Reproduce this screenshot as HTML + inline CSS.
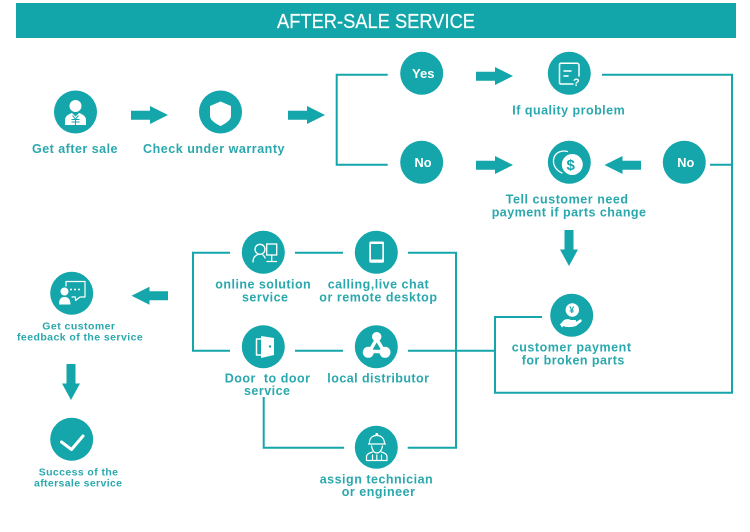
<!DOCTYPE html>
<html><head><meta charset="utf-8"><title>After-sale service</title>
<style>
html,body{margin:0;padding:0;background:#fff;width:750px;height:532px;overflow:hidden}
svg{display:block}
text{font-family:"Liberation Sans",sans-serif;font-weight:bold;fill:#2aa8ad;font-size:12.5px}
.s{font-size:10.5px}
.w{fill:#fff}
.l{fill:none;stroke:#14a6aa;stroke-width:2}
.c{fill:#14a6aa}
.i{fill:#fff}
.o{fill:none;stroke:#fff;stroke-width:1.5;stroke-linejoin:round;stroke-linecap:round}
</style></head><body>
<svg width="750" height="532" viewBox="0 0 750 532" xmlns="http://www.w3.org/2000/svg">
<rect x="16" y="3" width="720" height="35" fill="#12a6aa"/>
<text x="277" y="28" textLength="198" lengthAdjust="spacingAndGlyphs" style="font-size:20px;font-weight:normal;fill:#fff;stroke:#fff;stroke-width:.2">AFTER-SALE SERVICE</text>

<!-- connectors -->
<path class="l" d="M387.7 74.7H336.7V164.7H387.7"/>
<path class="l" d="M602 74.7H732V392.7H495V317H542"/>
<path class="l" d="M710 164.7H732"/>
<path class="l" d="M230 252.7H193V350.7H230"/>
<path class="l" d="M295 252.7H343M408 252.7H456V447.7H407.7"/>
<path class="l" d="M295 350.7H343M408 350.7H495"/>
<path class="l" d="M263.7 397V447.7H344"/>

<!-- arrows -->
<g class="c">
<path d="M131 110.700H150V106L168 115L150 124V119.700H131Z"/>
<path d="M288 110.700H307V106L325 115L307 124V119.700H288Z"/>
<path d="M476 71.700H495V67L513 76L495 85V80.700H476Z"/>
<path d="M476 160.700H495V156L513 165L495 174V169.700H476Z"/>
<path d="M641 160.700H622.500V156L604.500 165L622.500 174V169.700H641Z"/>
<path d="M564.500 230H573.500V249.500H578L569 266L560 249.500H564.500Z"/>
<path d="M168 291.200H149.500V286.700L131.500 295.700L149.500 304.700V300.200H168Z"/>
<path d="M66.500 364H75.500V383.500H80L71 400L62 383.500H66.500Z"/>
</g>

<!-- circles -->
<g class="c">
<circle cx="75.500" cy="112" r="21.500"/>
<circle cx="220.500" cy="112" r="21.500"/>
<circle cx="421.700" cy="73.300" r="21.500"/>
<circle cx="569.300" cy="73.300" r="21.500"/>
<circle cx="421.700" cy="162.300" r="21.500"/>
<circle cx="569.300" cy="162.300" r="21.500"/>
<circle cx="684.300" cy="162.300" r="21.500"/>
<circle cx="263.300" cy="252.300" r="21.500"/>
<circle cx="376.300" cy="252.300" r="21.500"/>
<circle cx="263.300" cy="346.700" r="21.500"/>
<circle cx="376.300" cy="346.700" r="21.500"/>
<circle cx="376.300" cy="447.300" r="21.500"/>
<circle cx="571.700" cy="315.300" r="21.500"/>
<circle cx="71.700" cy="293.300" r="21.500"/>
<circle cx="71.700" cy="439.300" r="21.500"/>
</g>

<!-- icon: person with yen -->
<circle class="i" cx="75.500" cy="106" r="6"/>
<path class="i" d="M65 125V120C65 116 69 114 72 113L75.500 116.500L79 113C82 114 86 116 86 120V125Z"/>
<path d="M72.500 115.500L75.500 119L78.500 115.500M71.500 119.500H79.500M71.500 122H79.500M75.500 118V125" fill="none" stroke="#14a6aa" stroke-width="1"/>

<!-- icon: shield -->
<path class="i" d="M220.500 101.500L231 106V116C231 120 225 124 220.500 126C216 124 210 120 210 116V106Z"/>

<!-- icon: note with ? -->
<path class="o" d="M579 76V65C579 64 578 63.300 577 63.300H561C560 63.300 559.500 64 559.500 65V82.500C559.500 83.500 560 84 561 84H573"/>
<path class="o" d="M564 71H571M564 76H568"/>
<text x="573" y="86" style="font-size:11px;fill:#fff">?</text>

<!-- icon: coins $ -->
<path class="o" style="stroke-width:1.300" d="M562 173C555.500 170 552 164 554 157.500C556 152 562 150 567.500 151.500"/>
<circle class="i" cx="572.300" cy="164.500" r="10.500"/>
<text x="566.500" y="170" style="font-size:15px;fill:#14a6aa">$</text>

<!-- icon: online -->
<circle class="o" style="stroke-width:1.300" cx="260" cy="249.300" r="5"/>
<path class="o" style="stroke-width:1.300" d="M253 262C253 258 255 255.500 258 254.500M263 255C264 256 265 257 265 258"/>
<rect x="266.700" y="244" width="10" height="11" fill="none" stroke="#fff" stroke-width="1.300"/>
<path class="o" style="stroke-width:1.300" d="M271.700 255.500V261M267 261.500H276.500"/>

<!-- icon: phone -->
<rect class="i" x="369.300" y="241.500" width="14.700" height="21.300" rx="1.500"/>
<rect x="371" y="244" width="11.300" height="15.500" fill="#14a6aa"/>

<!-- icon: door -->
<path class="o" d="M260.500 339H256.500V355H260.500"/>
<path class="i" d="M261 336L274 338V355L261 358Z"/>
<circle cx="270" cy="346.500" r="1.200" fill="#14a6aa"/>

<!-- icon: distributor -->
<path fill="none" stroke="#fff" stroke-width="3.500" d="M376.700 339L369.500 351.500H384Z"/>
<circle class="i" cx="376.700" cy="336.700" r="4.700"/>
<circle class="i" cx="368.300" cy="352.300" r="5.500"/>
<circle class="i" cx="385" cy="352.300" r="5.500"/>

<!-- icon: technician -->
<path class="o" style="stroke-width:1.200" d="M369.500 444C369 438 372.500 435.500 376.800 435.500C381 435.500 384.500 438 384.500 444ZM368.500 444H385.500M371.500 446C372.500 451 374.500 453 376.800 453C379.500 453 381.500 451 382.500 446"/>
<path class="o" style="stroke-width:1.200" d="M366.500 460.500V457C366.500 454 369.500 453 372.500 452M387 460.500V457C387 454 384.500 453 381.500 452M366.500 460.500H387M372.500 455V460.500M381.500 455V460.500M376.800 455V460.500"/>
<circle class="i" cx="376.800" cy="434.500" r="1.500"/>

<!-- icon: hand + yen coin -->
<circle class="i" cx="572.300" cy="310" r="6.700"/>
<text x="569.200" y="313.200" style="font-size:9px;fill:#14a6aa">¥</text>
<path class="i" d="M560 324.500L563.500 320.500C565.500 318.800 568.500 318.800 571 320H575C576.500 320 576.500 322.300 575 322.500H571L576 322L580 319.500C581.500 319 582.500 320.500 581 322L576 326C571 327.500 566 327.500 563.500 326L562 327.500Z"/>

<!-- icon: feedback -->
<circle class="i" cx="64.500" cy="291.500" r="4"/>
<path class="i" d="M59 304.500C59 299 61 297 64.500 297C68 297 70.500 299 70.500 304.500Z"/>
<path class="o" style="stroke-width:1.200" d="M66 286V281.500H85V297H80L75.500 300.500V297H72"/>
<circle class="i" cx="71" cy="289.500" r="1"/><circle class="i" cx="75" cy="289.500" r="1"/><circle class="i" cx="79" cy="289.500" r="1"/>

<!-- icon: check -->
<path fill="none" stroke="#fff" stroke-width="3" stroke-linecap="round" stroke-linejoin="round" d="M61.500 442L71.500 449.500L83 436"/>

<!-- circle labels -->
<text x="412" y="78" textLength="22.500" lengthAdjust="spacingAndGlyphs" style="fill:#fff;font-size:13px">Yes</text>
<text x="414.500" y="167" textLength="17" lengthAdjust="spacingAndGlyphs" style="fill:#fff;font-size:13px">No</text>
<text x="677.300" y="167" textLength="17" lengthAdjust="spacingAndGlyphs" style="fill:#fff;font-size:13px">No</text>

<!-- captions -->
<text x="32" y="153" textLength="85.500">Get after sale</text>
<text x="143" y="153" textLength="141.500">Check under warranty</text>
<text x="512.300" y="114.700" textLength="112.400">If quality problem</text>
<text x="505.700" y="203.700" textLength="122.300">Tell customer need</text>
<text x="491.700" y="216.700" textLength="154.300">payment if parts change</text>
<text x="215.300" y="288.700" textLength="95.400">online solution</text>
<text x="242" y="301.700" textLength="46">service</text>
<text x="327.700" y="288.700" textLength="101">calling,live chat</text>
<text x="319.300" y="301.700" textLength="117.700">or remote desktop</text>
<text x="224.700" y="382.300" textLength="85.300" xml:space="preserve">Door  to door</text>
<text x="244" y="395" textLength="46">service</text>
<text x="327.300" y="382.300" textLength="101.700">local distributor</text>
<text x="319.700" y="483.300" textLength="113">assign technician</text>
<text x="341.700" y="496" textLength="73.300">or engineer</text>
<text x="511.700" y="351.300" textLength="119.300">customer payment</text>
<text x="521.700" y="364.300" textLength="102.600">for broken parts</text>
<text class="s" x="42.300" y="329.300" textLength="72.700">Get customer</text>
<text class="s" x="17" y="340.300" textLength="125.700">feedback of the service</text>
<text class="s" x="38.700" y="475.300" textLength="79.300">Success of the</text>
<text class="s" x="34" y="486.700" textLength="88">aftersale service</text>
</svg>
</body></html>
